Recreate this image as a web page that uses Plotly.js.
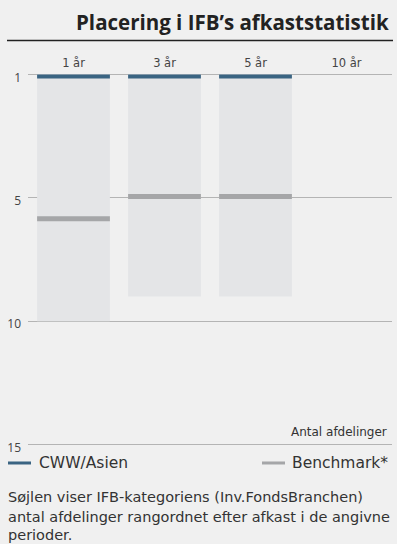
<!DOCTYPE html>
<html>
<head>
<meta charset="utf-8">
<script src="https://cdn.plot.ly/plotly-3.0.1.min.js"></script>
<style>
html,body{margin:0;padding:0;background:#f0f0f0;}
#chart{width:397px;height:544px;}
</style>
</head>
<body>
<div id="chart"></div>
<script>
// Data
var periods = ["1 år", "3 år", "5 år", "10 år"];
var fundCount = [10, 9, 9, null];             // antal afdelinger i IFB-kategorien
var cwwPosition = [0, 0, 0, null];            // CWW/Asien placering (axis units, top = nr. 1)
var benchPosition = [5.85, 4.95, 4.95, null]; // Benchmark placering (axis units)
var yTickVals = [0, 5, 10, 15];
var yTickText = ["1", "5", "10", "15"];

var FONT = "DejaVu Sans, sans-serif";
var TFONT = "Open Sans, sans-serif";
var cwwThick = 0.16, benchThick = 0.2;

var traces = [
  {type: "bar", x: periods, y: fundCount, base: 0, width: 0.8,
   marker: {color: "#e4e5e7"}, hoverinfo: "skip", showlegend: false},
  {type: "bar", x: periods, y: cwwPosition.map(function(v){return v===null?null:cwwThick;}),
   base: cwwPosition, width: 0.8, marker: {color: "#3a6482"}, name: "CWW/Asien", showlegend: false},
  {type: "bar", x: periods, y: benchPosition.map(function(v){return v===null?null:benchThick;}),
   base: benchPosition.map(function(v){return v===null?null:v-benchThick/2;}), width: 0.8,
   marker: {color: "#a5a6a8"}, name: "Benchmark*", showlegend: false}
];

// plot area (pixels) where axis value 0 -> y=74 and 15 -> y=445
var L = 28, R = 392, Y0 = 74, Y15 = 445;
var pad = 0.1, upx = (Y15 - Y0) / 15;
var T = Y0 - pad * upx, B = Y15 + pad * upx;
function px(x){return (x - L) / (R - L);}
function py(y){return (B - y) / (B - T);}

var layout = {
  width: 397, height: 544,
  margin: {l: L, r: 397 - R, t: T, b: 544 - B, pad: 0},
  paper_bgcolor: "#f0f0f0", plot_bgcolor: "#f0f0f0",
  barmode: "overlay", bargap: 0.2,
  showlegend: false,
  font: {family: FONT, color: "#333"},
  xaxis: {type: "category", side: "top", showgrid: false, showline: false, zeroline: false,
    ticks: "", ticklabelstandoff: 2, tickfont: {size: 11.5, color: "#444", family: FONT}, fixedrange: true},
  yaxis: {range: [15 + pad, -pad], tickvals: yTickVals, ticktext: yTickText, showgrid: true,
    gridcolor: "#b4b4b4", gridwidth: 1, zeroline: false, showline: false, ticks: "",
    tickfont: {size: 12, color: "#444", family: TFONT}, ticklabelstandoff: 6, ticklabelshift: -3,
    fixedrange: true},
  shapes: [
    {type: "line", xref: "paper", yref: "paper", x0: px(7), x1: px(393), y0: py(40), y1: py(40),
     line: {color: "#222", width: 1.5}},
    {type: "line", xref: "paper", yref: "paper", x0: px(8), x1: px(31), y0: py(463.5), y1: py(463.5),
     line: {color: "#3a6482", width: 3}},
    {type: "line", xref: "paper", yref: "paper", x0: px(262), x1: px(285), y0: py(463.5), y1: py(463.5),
     line: {color: "#a5a6a8", width: 3}}
  ],
  annotations: [
    {text: "<b>Placering i IFB’s afkaststatistik</b>", xref: "paper", yref: "paper",
     x: px(391), y: py(21), xanchor: "right", yanchor: "middle", showarrow: false,
     font: {size: 20.5, color: "#222", family: TFONT}},
    {text: "Antal afdelinger", xref: "paper", yref: "paper", x: px(389), y: py(432),
     xanchor: "right", yanchor: "middle", showarrow: false, font: {size: 12, color: "#333", family: FONT}},
    {text: "CWW/Asien", xref: "paper", yref: "paper", x: px(37), y: py(464),
     xanchor: "left", yanchor: "middle", showarrow: false, font: {size: 15.5, color: "#333", family: FONT}},
    {text: "Benchmark*", xref: "paper", yref: "paper", x: px(390), y: py(464),
     xanchor: "right", yanchor: "middle", showarrow: false, font: {size: 15.5, color: "#333", family: FONT}},
    {text: "Søjlen viser IFB-kategoriens (Inv.FondsBranchen)", xref: "paper", yref: "paper",
     x: px(6), y: py(498), xanchor: "left", yanchor: "middle", showarrow: false,
     font: {size: 14.5, color: "#333", family: FONT}},
    {text: "antal afdelinger rangordnet efter afkast i de angivne", xref: "paper", yref: "paper",
     x: px(6), y: py(518), xanchor: "left", yanchor: "middle", showarrow: false,
     font: {size: 14.5, color: "#333", family: FONT}},
    {text: "perioder.", xref: "paper", yref: "paper",
     x: px(6), y: py(536), xanchor: "left", yanchor: "middle", showarrow: false,
     font: {size: 14.5, color: "#333", family: FONT}}
  ]
};

Plotly.newPlot("chart", traces, layout, {displayModeBar: false, staticPlot: true});
</script>
</body>
</html>
